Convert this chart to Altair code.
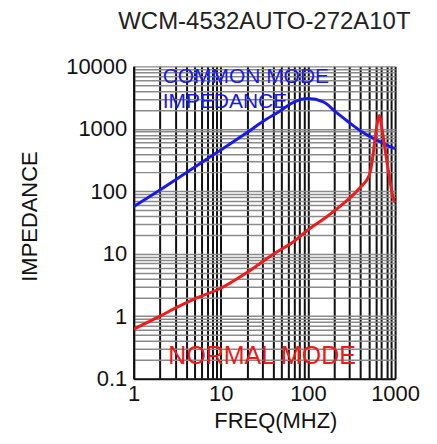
import altair as alt
import pandas as pd

# Common mode impedance (blue)
cm_freq = [1, 2, 4, 10, 20, 30, 47, 70, 100, 150, 210, 300, 425, 630, 800, 1000]
cm_imp = [57, 105, 198, 460, 870, 1300, 1900, 2700, 3050, 2700, 1850, 1250, 880, 650, 550, 480]

# Normal mode impedance (red)
nm_freq = [1, 2, 3, 5, 10, 20, 40, 70, 100, 160, 250, 390, 505, 551, 577, 628, 658, 717, 785, 853, 935, 1000]
nm_imp = [0.62, 1.0, 1.35, 1.9, 2.8, 5.0, 9.8, 16, 24, 38, 62, 112, 180, 330, 550, 1270, 1630, 890, 380, 180, 87, 65]

x_grid = [round(m * 10 ** k, 6) for k in range(0, 3) for m in range(1, 10)] + [1000]
y_grid = [round(m * 10 ** k, 6) for k in range(-1, 4) for m in range(1, 10)] + [10000]

ann_text = ["COMMON MODE", "IMPEDANCE", "NORMAL MODE"]
ann_x = [2.15, 2.15, 2.5]
ann_y = [6700, 2650, 0.23]
ann_color = ["#1a1ae6", "#1a1ae6", "#f01818"]
ann_size = [21, 21, 25]

df = pd.DataFrame({
    "freq": cm_freq + nm_freq,
    "imp": cm_imp + nm_imp,
    "mode": ["Common"] * len(cm_freq) + ["Normal"] * len(nm_freq),
})
ann = pd.DataFrame({"text": ann_text, "x": ann_x, "y": ann_y, "c": ann_color, "s": ann_size})

FONT = "Liberation Sans"

xscale = alt.Scale(type="log", domain=[1, 1000], nice=False)
yscale = alt.Scale(type="log", domain=[0.1, 10000], nice=False)

x_axis = alt.Axis(
    values=x_grid, grid=True, gridColor="#111111", gridWidth=2, gridOpacity=1,
    ticks=False, labelExpr="indexof([1,10,100,1000], datum.value) >= 0 ? '' + datum.value : ''",
    labelOverlap=False, labelBound=False, labelFlush=False, labelFont=FONT, labelFontSize=22,
    labelColor="#111", labelPadding=5, domainColor="#111", domainWidth=2,
    title="FREQ(MHZ)", titleFont=FONT, titleFontSize=22, titleFontWeight="normal",
    titleColor="#111", titleX=142, titleY=42, titleBaseline="middle", titleAlign="center",
)
y_axis = alt.Axis(
    values=y_grid, grid=True, gridColor="#8a8a8a", gridWidth=1.5, gridOpacity=1,
    ticks=False,
    labelExpr="abs(log(datum.value)/LN10 - round(log(datum.value)/LN10)) < 0.001 ? '' + datum.value : ''",
    labelOverlap=False, labelBound=False, labelFlush=False, labelFont=FONT, labelFontSize=22,
    labelColor="#111", labelPadding=7, domainColor="#111", domainWidth=2,
    title="IMPEDANCE", titleFont=FONT, titleFontSize=22, titleFontWeight="normal",
    titleColor="#111", titleX=-104, titleY=150, titleBaseline="middle", titleAlign="center",
    titleAngle=270,
)

lines = alt.Chart(df).mark_line(strokeWidth=3, clip=True, interpolate="monotone").encode(
    x=alt.X("freq:Q", scale=xscale, axis=x_axis),
    y=alt.Y("imp:Q", scale=yscale, axis=y_axis),
    color=alt.Color("mode:N", scale=alt.Scale(domain=["Common", "Normal"], range=["#1a1ae6", "#ee1c1c"]), legend=None),
)

texts = alt.Chart(ann).mark_text(align="left", baseline="middle", font=FONT).encode(
    x=alt.X("x:Q", scale=xscale),
    y=alt.Y("y:Q", scale=yscale),
    text="text:N",
    color=alt.Color("c:N", scale=None),
    size=alt.Size("s:Q", scale=None),
)

chart = alt.layer(lines, texts).properties(
    width=262, height=313, autosize="none",
    padding={"left": 126, "top": 58, "right": 34, "bottom": 62},
    title=alt.TitleParams("WCM-4532AUTO-272A10T", font=FONT, fontSize=24, fontWeight="normal",
                          color="#222", anchor="middle", dx=0, offset=21),
    background="white",
).configure_view(stroke=None)

chart.save("out.html", embed_options={"renderer": "svg", "actions": False})
